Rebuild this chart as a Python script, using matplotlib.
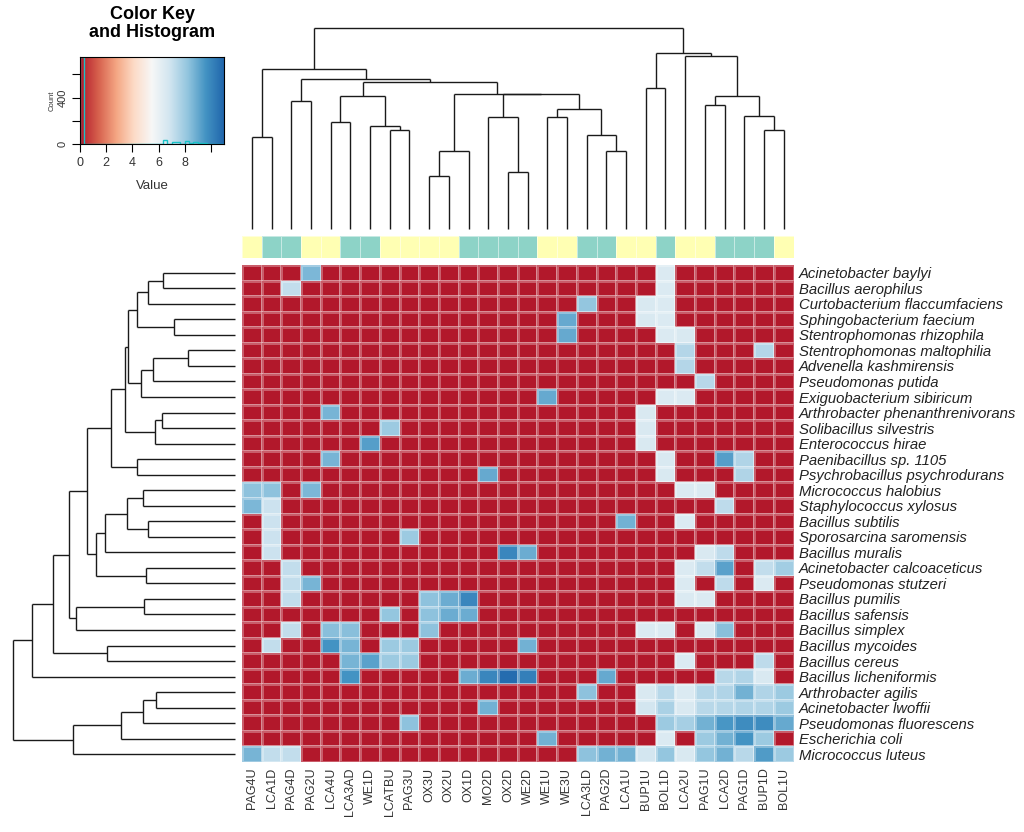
import matplotlib
matplotlib.use('Agg')
import matplotlib.pyplot as plt
from matplotlib.colors import LinearSegmentedColormap, ListedColormap
import numpy as np

plt.rcParams['font.family'] = ['Liberation Sans', 'DejaVu Sans']

col_labels = ['PAG4U', 'LCA1D', 'PAG4D', 'PAG2U', 'LCA4U', 'LCA3AD', 'WE1D', 'LCATBU', 'PAG3U',
              'OX3U', 'OX2U', 'OX1D', 'MO2D', 'OX2D', 'WE2D', 'WE1U', 'WE3U', 'LCA3LD', 'PAG2D',
              'LCA1U', 'BUP1U', 'BOL1D', 'LCA2U', 'PAG1U', 'LCA2D', 'PAG1D', 'BUP1D', 'BOL1U']
# 0 = U (yellow), 1 = D (teal)
col_group = [0, 1, 1, 0, 0, 1, 1, 0, 0, 0, 0, 1, 1, 1, 1, 0, 0, 1, 1, 0, 0, 1, 0, 0, 1, 1, 1, 0]

row_labels = ['Acinetobacter baylyi', 'Bacillus aerophilus', 'Curtobacterium flaccumfaciens',
              'Sphingobacterium faecium', 'Stentrophomonas rhizophila', 'Stentrophomonas maltophilia',
              'Advenella kashmirensis', 'Pseudomonas putida', 'Exiguobacterium sibiricum',
              'Arthrobacter phenanthrenivorans', 'Solibacillus silvestris', 'Enterococcus hirae',
              'Paenibacillus sp. 1105', 'Psychrobacillus psychrodurans', 'Micrococcus halobius',
              'Staphylococcus xylosus', 'Bacillus subtilis', 'Sporosarcina saromensis',
              'Bacillus muralis', 'Acinetobacter calcoaceticus', 'Pseudomonas stutzeri',
              'Bacillus pumilis', 'Bacillus safensis', 'Bacillus simplex', 'Bacillus mycoides',
              'Bacillus cereus', 'Bacillus licheniformis', 'Arthrobacter agilis',
              'Acinetobacter lwoffii', 'Pseudomonas fluorescens', 'Escherichia coli',
              'Micrococcus luteus']

# (row, col, value) of the non-zero cells, all other cells are 0
hits = [
    (0, 3, 8.6), (0, 21, 6.5),
    (1, 2, 7.2), (1, 21, 6.5),
    (2, 17, 8.2), (2, 20, 6.6), (2, 21, 6.5),
    (3, 16, 9.0), (3, 20, 6.6), (3, 21, 6.5),
    (4, 16, 9.0), (4, 21, 6.5), (4, 22, 6.6),
    (5, 22, 7.5), (5, 26, 7.5),
    (6, 22, 7.5),
    (7, 23, 7.4),
    (8, 15, 9.0), (8, 21, 6.5), (8, 22, 6.5),
    (9, 4, 8.7), (9, 20, 6.6),
    (10, 7, 8.0), (10, 20, 6.6),
    (11, 6, 9.3), (11, 20, 6.6),
    (12, 4, 8.7), (12, 21, 6.6), (12, 24, 9.3), (12, 25, 7.6),
    (13, 12, 9.0), (13, 21, 6.6), (13, 25, 7.6),
    (14, 0, 8.3), (14, 1, 8.3), (14, 3, 8.6), (14, 22, 6.5), (14, 23, 6.5),
    (15, 0, 8.6), (15, 1, 7.0), (15, 24, 7.3),
    (16, 1, 7.0), (16, 19, 8.8), (16, 22, 6.5),
    (17, 1, 7.0), (17, 8, 8.0),
    (18, 1, 7.0), (18, 13, 10.0), (18, 14, 8.9), (18, 23, 6.6), (18, 24, 7.3),
    (19, 2, 7.2), (19, 22, 6.5), (19, 23, 7.2), (19, 24, 9.2), (19, 26, 7.2), (19, 27, 7.9),
    (20, 2, 7.2), (20, 3, 8.7), (20, 22, 6.5), (20, 24, 7.3), (20, 26, 6.5),
    (21, 2, 7.2), (21, 9, 8.3), (21, 10, 8.9), (21, 11, 10.0), (21, 22, 6.5), (21, 23, 6.5),
    (22, 7, 8.2), (22, 9, 8.3), (22, 10, 8.9), (22, 11, 8.9),
    (23, 2, 7.2), (23, 4, 8.4), (23, 5, 8.4), (23, 9, 8.3), (23, 20, 6.5), (23, 21, 6.5),
    (23, 23, 6.5), (23, 24, 8.4),
    (24, 1, 7.2), (24, 4, 9.6), (24, 5, 8.7), (24, 7, 8.0), (24, 8, 8.0), (24, 14, 8.8),
    (25, 5, 8.7), (25, 6, 9.2), (25, 7, 8.0), (25, 8, 8.0), (25, 22, 6.5), (25, 26, 7.3),
    (26, 5, 9.6), (26, 11, 8.9), (26, 12, 10.0), (26, 13, 10.8), (26, 14, 10.2), (26, 18, 9.0),
    (26, 24, 7.4), (26, 25, 7.6), (26, 26, 6.6),
    (27, 17, 8.3), (27, 20, 6.6), (27, 21, 7.4), (27, 22, 6.5), (27, 23, 7.5), (27, 24, 7.6),
    (27, 25, 8.8), (27, 26, 7.6), (27, 27, 8.0),
    (28, 12, 8.8), (28, 20, 6.8), (28, 21, 7.7), (28, 22, 6.6), (28, 23, 7.4), (28, 24, 7.5),
    (28, 25, 7.6), (28, 26, 7.6), (28, 27, 8.0),
    (29, 8, 8.3), (29, 21, 8.0), (29, 22, 7.8), (29, 23, 8.8), (29, 24, 9.5), (29, 25, 9.8),
    (29, 26, 9.8), (29, 27, 9.0),
    (30, 15, 8.8), (30, 21, 6.5), (30, 23, 8.0), (30, 24, 8.8), (30, 25, 9.6), (30, 26, 8.0),
    (31, 0, 8.7), (31, 1, 7.2), (31, 2, 7.2), (31, 17, 8.3), (31, 18, 8.8), (31, 19, 8.8),
    (31, 20, 6.8), (31, 21, 8.2), (31, 22, 6.6), (31, 23, 8.2), (31, 24, 8.8), (31, 25, 7.4),
    (31, 26, 9.4), (31, 27, 8.0),
]

# dendrogram merges: (left, right, height); ids >= n are earlier merges (n + index)
col_merges = [
    (0, 1, 276), (2, 3, 383), (4, 5, 321), (7, 8, 298), (6, 31, 308), (30, 32, 400),
    (9, 10, 158), (34, 11, 233), (13, 14, 170), (12, 36, 336), (15, 16, 336), (18, 19, 235),
    (17, 39, 281), (38, 40, 361), (37, 41, 404), (35, 42, 405), (33, 43, 440), (29, 44, 451),
    (28, 45, 479), (20, 21, 423), (23, 24, 371), (26, 27, 298), (25, 49, 338), (48, 50, 398),
    (22, 51, 520), (47, 52, 528), (46, 53, 603),
]
row_merges = [
    (0, 1, 215), (32, 2, 260), (3, 4, 182), (33, 34, 295), (5, 6, 142), (36, 7, 245),
    (37, 8, 283), (35, 38, 320), (9, 10, 220), (40, 11, 239), (39, 41, 330), (12, 13, 293),
    (42, 43, 370), (14, 15, 277), (16, 17, 260), (45, 46, 325), (47, 18, 390), (19, 20, 267),
    (48, 49, 417), (44, 50, 443), (21, 22, 273), (52, 23, 475), (51, 53, 497), (24, 25, 383),
    (54, 55, 545), (56, 26, 607), (27, 28, 238), (58, 29, 277), (59, 30, 340), (60, 31, 485),
    (57, 61, 665),
]

vmin, vmax = 0, 11
cmap = LinearSegmentedColormap.from_list('rdbu', ['#B2182B', '#D6604D', '#F4A582', '#FDDBC7', '#F7F7F7',
                                                  '#D1E5F0', '#92C5DE', '#4393C3', '#2166AC'])

nr, nc = len(row_labels), len(col_labels)
mat = np.zeros((nr, nc))
for r, c, v in hits:
    mat[r, c] = v

W, H = 1024, 832
fig = plt.figure(figsize=(W / 100, H / 100), dpi=100)


def box(x0, y0, x1, y1):
    return [x0 / W, 1 - y1 / H, (x1 - x0) / W, (y1 - y0) / H]


def dendro(ax, merges, n, rows=False):
    pos = {i: i + 0.5 for i in range(n)}
    hgt = {i: 0.0 for i in range(n)}
    for k, (a, b, h) in enumerate(merges):
        for c in (a, b):
            xs, ys = [pos[c], pos[c]], [hgt[c], h]
            if rows:
                xs, ys = ys, xs
            ax.plot(xs, ys, color='#1a1a1a', lw=1.0, solid_capstyle='butt', clip_on=False)
        xs, ys = [pos[a], pos[b]], [h, h]
        if rows:
            xs, ys = ys, xs
        ax.plot(xs, ys, color='#1a1a1a', lw=1.0, solid_capstyle='butt', clip_on=False)
        pos[n + k] = (pos[a] + pos[b]) / 2
        hgt[n + k] = h
    ax.axis('off')


# heatmap
ax = fig.add_axes(box(242, 265, 793.5, 762))
ax.pcolormesh(np.arange(nc + 1), np.arange(nr + 1), mat, cmap=cmap, vmin=vmin, vmax=vmax,
              edgecolors=(1, 1, 1, 0.3), linewidth=0.8)
ax.set_xlim(0, nc)
ax.set_ylim(nr, 0)
for s in ax.spines.values():
    s.set_visible(False)
ax.set_xticks(np.arange(nc) + 0.5)
ax.set_xticklabels(col_labels, rotation=90, fontsize=9, color='#333333')
ax.yaxis.tick_right()
ax.set_yticks(np.arange(nr) + 0.5)
ax.set_yticklabels(row_labels, fontsize=10.7, style='italic', color='#222222')
ax.tick_params(length=0, pad=4)

# side colours
sax = fig.add_axes(box(242, 236, 793.5, 258))
sax.pcolormesh(np.arange(nc + 1), [0, 1], np.array([col_group]), cmap=ListedColormap(['#FFFFB3', '#8DD3C7']),
               vmin=0, vmax=1, edgecolors=(1, 1, 1, 0.5), linewidth=0.5)
sax.set_xlim(0, nc)
sax.axis('off')

# dendrograms
cax = fig.add_axes(box(242, 28, 793.5, 229))
dendro(cax, col_merges, nc)
cax.set_xlim(0, nc)
cax.set_ylim(0, col_merges[-1][2])

rax = fig.add_axes(box(13, 265, 235, 762))
dendro(rax, row_merges, nr, rows=True)
rax.set_ylim(nr, 0)
rax.set_xlim(row_merges[-1][2], 0)

# color key with histogram
kax = fig.add_axes(box(80, 57, 224, 144))
counts, edges = np.histogram(mat.ravel(), bins=np.linspace(vmin, vmax, 34))
top = counts.max()
kax.imshow(np.linspace(vmin, vmax, 256)[None, :], cmap=cmap, aspect='auto', extent=[vmin, vmax, 0, top],
           vmin=vmin, vmax=vmax)
kax.stairs(counts, edges, color='#19C3C8', lw=1.0)
kax.set_xlim(vmin, vmax)
kax.set_ylim(0, top)
kax.set_xticks([0, 2, 4, 6, 8, 10])
kax.set_xticklabels(['0', '2', '4', '6', '8', ''], fontsize=9, color='#333333')
kax.set_yticks([0, 200, 400, 600])
kax.set_yticklabels(['0', '', '400', ''], fontsize=8, rotation=90, va='center', color='#333333')
kax.tick_params(direction='out', length=6, width=0.8, pad=3)
kax.set_xlabel('Value', fontsize=9.5, color='#333333', labelpad=8)
kax.set_ylabel('Count', fontsize=5.5, color='#333333', labelpad=1)
for s in kax.spines.values():
    s.set_linewidth(0.8)
fig.text(152 / W, 1 - 6 / H, 'Color Key\nand Histogram', ha='center', va='top', fontsize=13,
         fontweight='bold', linespacing=1.05)

fig.savefig('out.png', dpi=100)
